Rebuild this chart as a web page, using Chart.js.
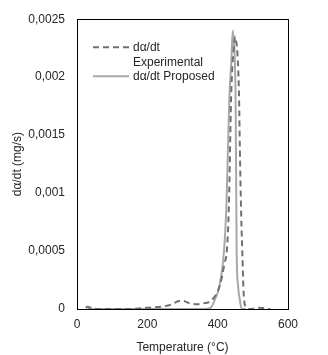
<!DOCTYPE html>
<html><head><meta charset="utf-8">
<script src="https://cdn.jsdelivr.net/npm/chart.js@4.4.0/dist/chart.umd.min.js"></script>
<style>html,body{margin:0;padding:0;background:#fff}#wrap{width:328px;height:355px}</style>
</head><body><div id="wrap"><canvas id="c" width="328" height="355"></canvas></div>
<script>
const expTemps = [25,30,40,60,100,150,200,240,270,290,300,320,340,360,375,390,406,420,426,432,438,442,445,450,453,456,461,463,467,470,473,475,480,490,520,550];
const expVals  = [0.00001,0.00002,0.00001,0,0,0,0.00001,0.00002,0.00004,0.00007,0.00007,0.00005,0.00004,0.00005,0.00006,0.0001,0.0002,0.0004,0.0005,0.0009,0.0018,0.0021,0.00222,0.00235,0.0023,0.00222,0.0018,0.0014,0.0008,0.0005,0.0002,0.00008,0.00002,0,0.00001,0];
const propTemps = [30,100,200,300,360,380,392,405,418,425,433,438,440,443,446,448,451,452,454,458,463,468,480];
const propVals  = [0,0,0,0,0,0.00001,0.00008,0.0002,0.0005,0.0009,0.0018,0.0021,0.00222,0.0024,0.0023,0.00222,0.0018,0.0014,0.0005,0.0002,0.00008,0,0];
const seriesNames = [["dα/dt","Experimental"],["dα/dt Proposed"]];
const yTicks = [0,0.0005,0.001,0.0015,0.002,0.0025];
const xTicks = [0,200,400,600];
const xTitle = "Temperature (°C)";
const yTitle = "dα/dt (mg/s)";

const FONT = {family:"'Liberation Sans', Arial, sans-serif", size:12};
const TXT = '#262626';

const frame = {
  id:'frame',
  afterDatasetsDraw(chart){
    const {ctx, chartArea:a} = chart;
    ctx.save();
    ctx.strokeStyle='#000'; ctx.lineWidth=1;
    ctx.strokeRect(Math.round(a.left)+0.5, Math.round(a.top)+0.5, Math.round(a.right-a.left), Math.round(a.bottom-a.top));
    // legend
    const x0 = a.left+16, x1 = a.left+52, tx = a.left+56;
    ctx.font = "12px 'Liberation Sans', Arial, sans-serif";
    ctx.fillStyle = TXT; ctx.textBaseline='middle'; ctx.textAlign='left';
    let y = a.top+28;
    chart.data.datasets.forEach((ds,i)=>{
      ctx.beginPath();
      ctx.strokeStyle = ds.borderColor; ctx.lineWidth = ds.borderWidth;
      ctx.setLineDash(ds.borderDash||[]);
      ctx.moveTo(x0,y); ctx.lineTo(x1,y); ctx.stroke();
      ctx.setLineDash([]);
      seriesNames[i].forEach((line,j)=>{ ctx.fillText(line, tx, y+j*15.5); });
      y += seriesNames[i].length*15.5 - 2;
    });
    ctx.restore();
  }
};

new Chart(document.getElementById('c'), {
  type:'line',
  data:{
    datasets:[
      {label:seriesNames[0].join(' '), data:expTemps.map((t,i)=>({x:t,y:expVals[i]})),
       borderColor:'#707070', borderWidth:2, borderDash:[6,4], pointRadius:0, tension:0.4, cubicInterpolationMode:'monotone', fill:false},
      {label:seriesNames[1].join(' '), data:propTemps.map((t,i)=>({x:t,y:propVals[i]})),
       borderColor:'#a8a8a8', borderWidth:2, pointRadius:0, tension:0.4, cubicInterpolationMode:'monotone', fill:false}
    ]
  },
  options:{
    responsive:false, animation:false, devicePixelRatio:1,
    layout:{padding:{left:0,top:18,right:40,bottom:0}},
    plugins:{legend:{display:false}, tooltip:{enabled:false}},
    scales:{
      x:{type:'linear', min:0, max:600,
         grid:{display:false, drawTicks:false}, border:{display:false},
         afterBuildTicks(s){ s.ticks = xTicks.map(v=>({value:v})); },
         ticks:{font:FONT, color:TXT, padding:8, maxRotation:0},
         title:{display:true, text:xTitle, font:FONT, color:TXT, padding:{top:3,bottom:0}},
         afterFit(s){ s.height = 46; }
      },
      y:{type:'linear', min:0, max:0.0025,
         grid:{display:false, drawTicks:false}, border:{display:false},
         afterBuildTicks(s){ s.ticks = yTicks.map(v=>({value:v})); },
         ticks:{font:FONT, color:TXT, padding:12, callback:(v)=>String(Number(v.toFixed(4))).replace('.',',')},
         title:{display:true, text:yTitle, font:{family:FONT.family,size:12}, color:TXT, padding:{top:10,bottom:4}},
         afterFit(s){ s.width = 77; }
      }
    }
  },
  plugins:[frame]
});
</script></body></html>
